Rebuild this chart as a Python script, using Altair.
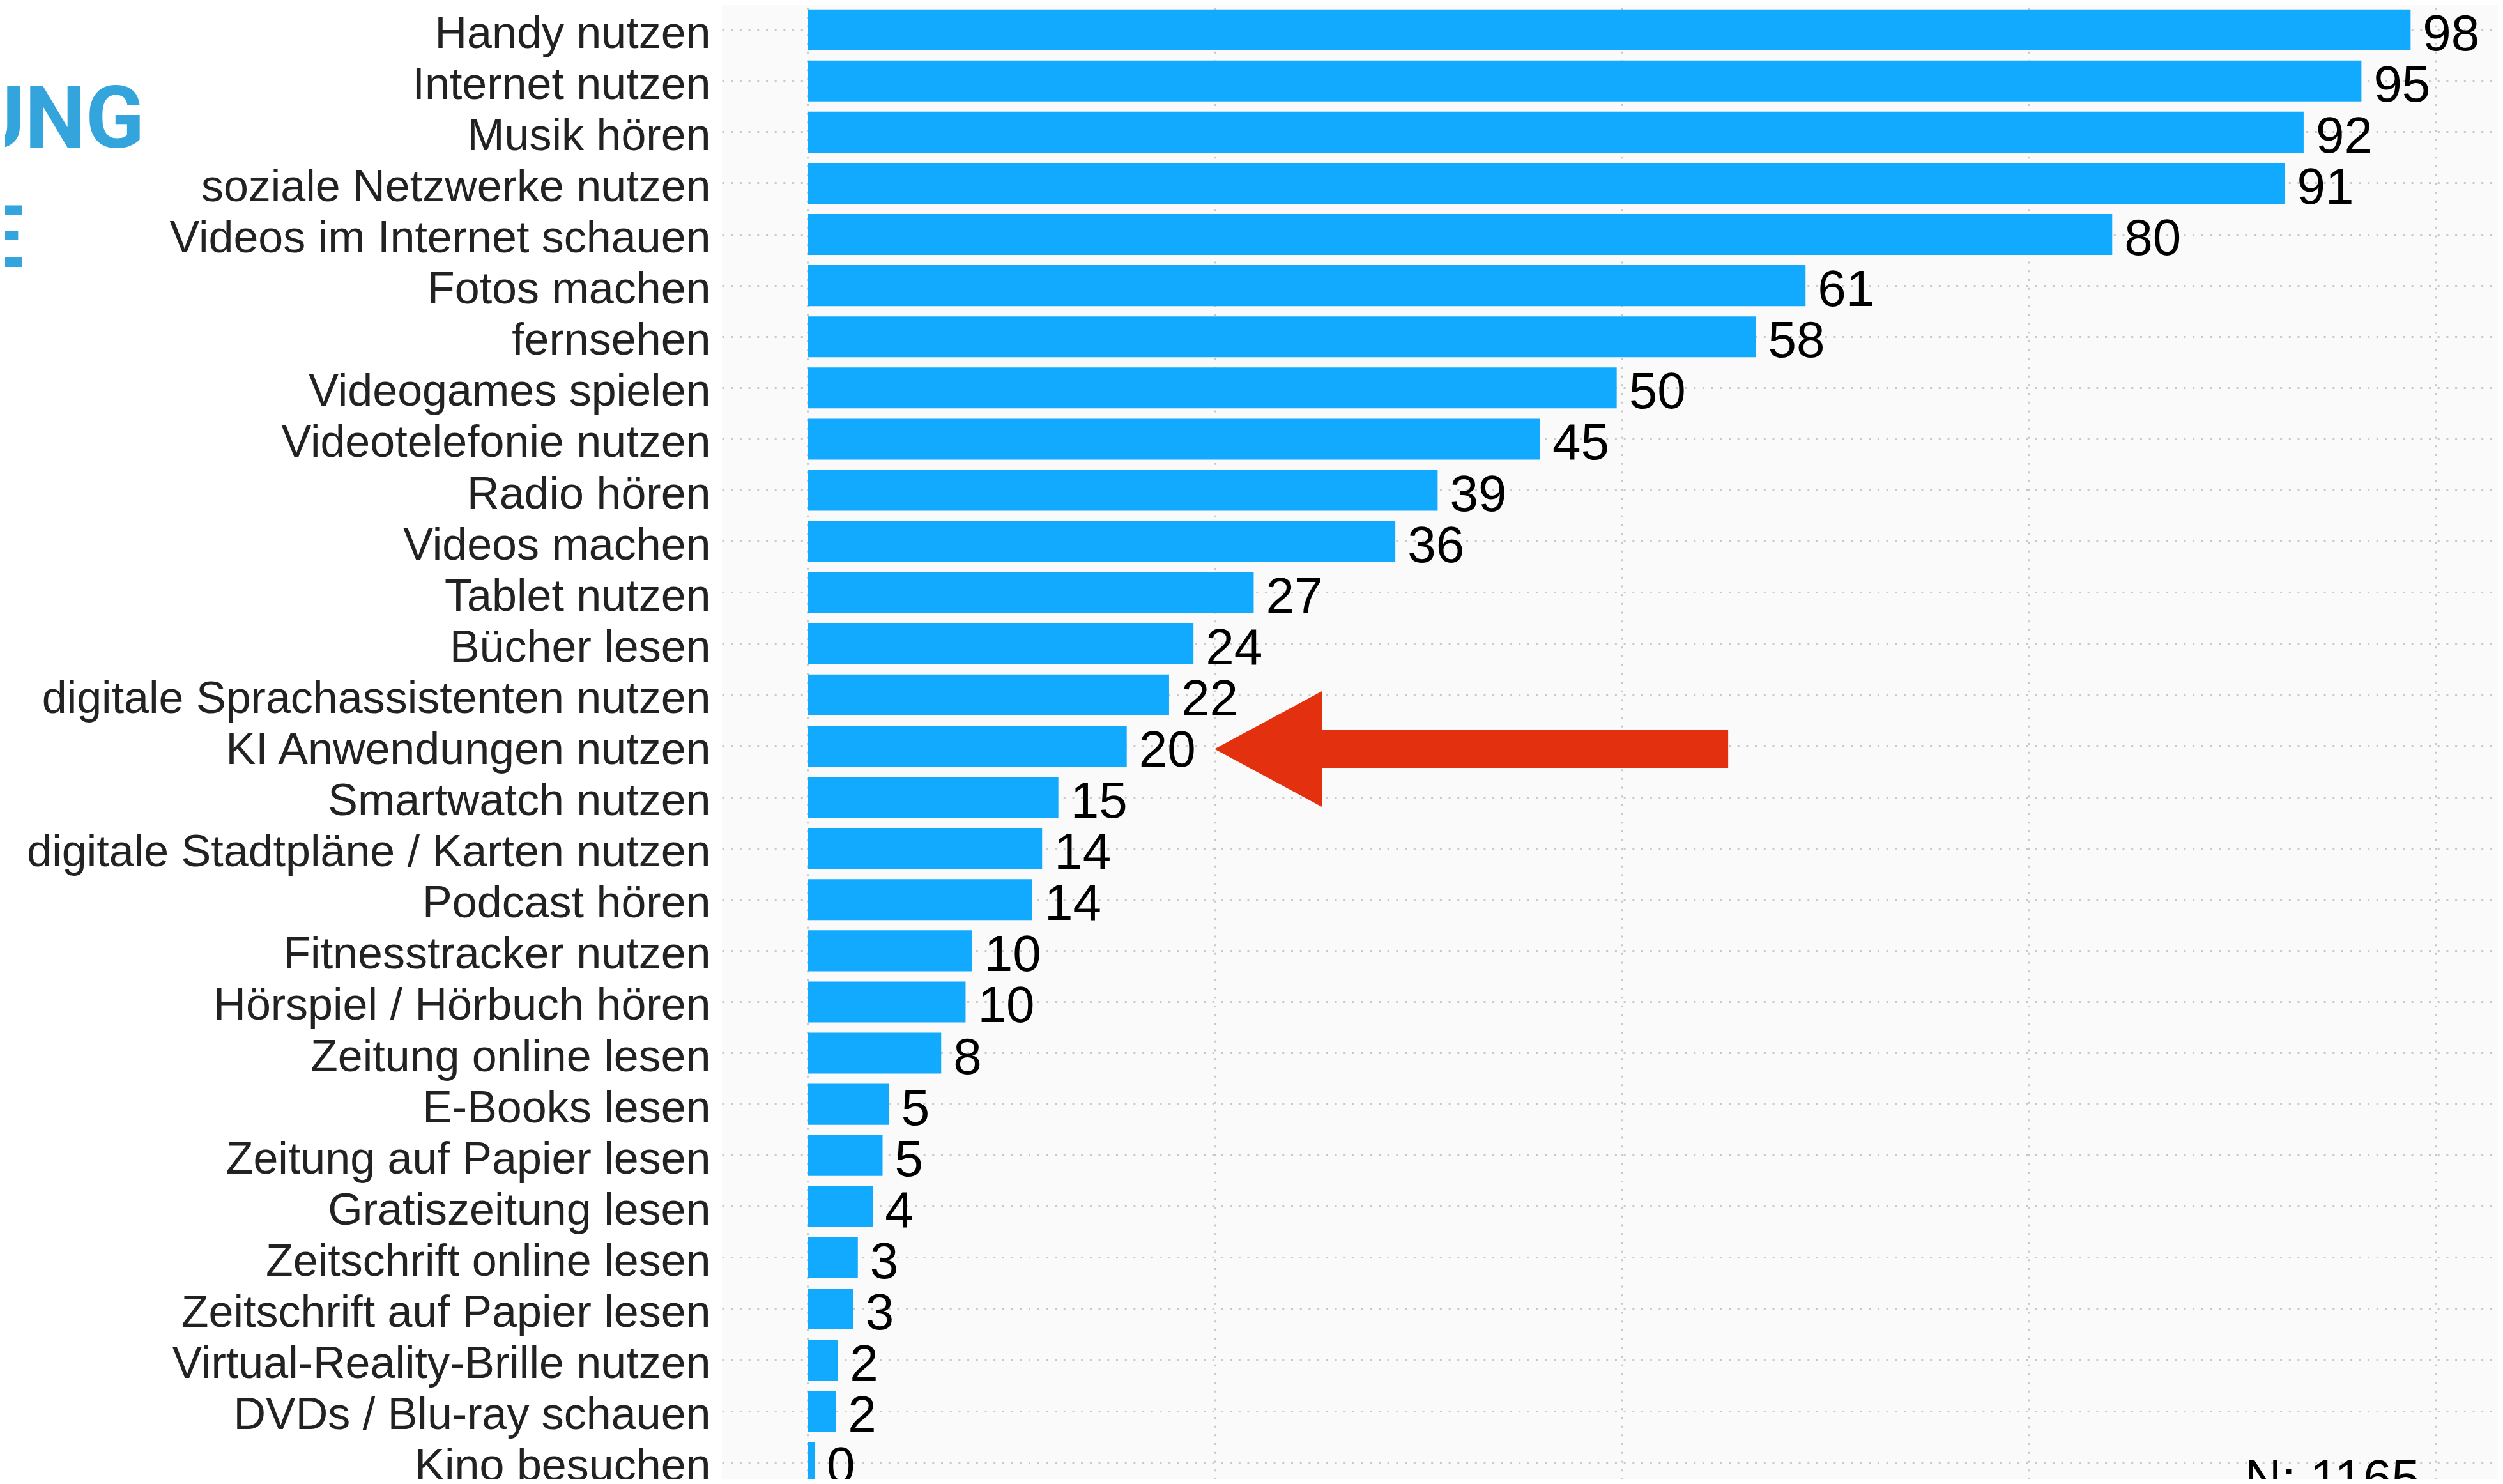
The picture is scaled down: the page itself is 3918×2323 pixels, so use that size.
import altair as alt
import pandas as pd

# ---------------- data ----------------
categories = [
    "Handy nutzen", "Internet nutzen", "Musik hören", "soziale Netzwerke nutzen",
    "Videos im Internet schauen", "Fotos machen", "fernsehen", "Videogames spielen",
    "Videotelefonie nutzen", "Radio hören", "Videos machen", "Tablet nutzen",
    "Bücher lesen", "digitale Sprachassistenten nutzen", "KI Anwendungen nutzen",
    "Smartwatch nutzen", "digitale Stadtpläne / Karten nutzen", "Podcast hören",
    "Fitnesstracker nutzen", "Hörspiel / Hörbuch hören", "Zeitung online lesen",
    "E-Books lesen", "Zeitung auf Papier lesen", "Gratiszeitung lesen",
    "Zeitschrift online lesen", "Zeitschrift auf Papier lesen",
    "Virtual-Reality-Brille nutzen", "DVDs / Blu-ray schauen", "Kino besuchen",
]
values = [
    98.47, 95.45, 91.9, 90.75, 80.14, 61.3, 58.25, 49.7, 45.0, 38.7, 36.1, 27.4,
    23.7, 22.2, 19.6, 15.4, 14.4, 13.8, 10.1, 9.7, 8.2, 5.0, 4.6, 4.0, 3.08,
    2.8, 1.84, 1.72, 0.42,
]
value_labels = [
    "98", "95", "92", "91", "80", "61", "58", "50", "45", "39", "36", "27",
    "24", "22", "20", "15", "14", "14", "10", "10", "8", "5", "5", "4", "3",
    "3", "2", "2", "0",
]
x_grid_values = [0, 25, 50, 75, 100]
arrow_target = "KI Anwendungen nutzen"
arrow_center_value = 40.77
title_line1 = "UNG"
title_line2 = "E"
sample_note = "N: 1165"

df = pd.DataFrame({"Tätigkeit": categories, "Anteil": values, "Label": value_labels})

# ---------------- styling ----------------
BAR_BLUE = "#12AAFF"
TITLE_BLUE = "#34A5DC"
ARROW_RED = "#E3300E"
GRID = "#c8c8c8"
FONT = "Liberation Sans, Arial, Helvetica, sans-serif"
NARROW = "Roboto, Liberation Sans, sans-serif"

PLOT_W = 2780
PLOT_H = 2307
PAD_L = 1122

x_scale = alt.Scale(domain=[-5.271, 103.834], nice=False, zero=False)
y_scale = alt.Scale(range=[-1.35, 2321.3], paddingInner=0.2, paddingOuter=0.1)

x_axis = alt.Axis(values=x_grid_values, labels=False, ticks=False, domain=False,
                  grid=True, gridColor=GRID, gridWidth=3, gridDash=[3, 10.7],
                  title=None)
y_axis = alt.Axis(title=None, ticks=False, tickSize=0, domain=False, grid=True,
                  gridColor=GRID, gridWidth=3, gridDash=[3, 10.7],
                  bandPosition=0.5, labelFont=FONT, labelFontSize=70,
                  labelColor="#222222", labelPadding=18, labelLimit=3000,
                  labelBaseline="alphabetic", labelOffset=28)

base = alt.Chart(df)

bars = base.mark_bar(color=BAR_BLUE).encode(
    x=alt.X("Anteil:Q", scale=x_scale, axis=x_axis),
    x2=alt.datum(0),
    y=alt.Y("Tätigkeit:N", sort=categories, scale=y_scale, axis=y_axis),
)

texts = base.mark_text(align="left", baseline="alphabetic", dx=19, dy=32,
                       font=FONT, fontSize=80, color="#000000").encode(
    x=alt.X("Anteil:Q"),
    y=alt.Y("Tätigkeit:N", sort=categories),
    text="Label:N",
)

arrow_path = ("M-1,0 L-0.582,-0.225 L-0.582,-0.0734 L1,-0.0734 L1,0.0734 "
              "L-0.582,0.0734 L-0.582,0.225 Z")
arrow_df = pd.DataFrame({"Tätigkeit": [arrow_target], "Anteil": [arrow_center_value]})
arrow = alt.Chart(arrow_df).mark_point(
    shape=arrow_path, size=804 * 804, filled=True, color=ARROW_RED,
    opacity=1, strokeWidth=0, yOffset=4.5,
).encode(
    x=alt.X("Anteil:Q"),
    y=alt.Y("Tätigkeit:N", sort=categories),
)

title1 = alt.Chart(pd.DataFrame({"t": [title_line1]})).mark_text(
    align="right", baseline="alphabetic", font=NARROW, fontWeight="bold",
    fontSize=135, color=TITLE_BLUE,
).encode(text="t:N", x=alt.value(-904), y=alt.value(223))

title2 = alt.Chart(pd.DataFrame({"t": [title_line2]})).mark_text(
    align="right", baseline="alphabetic", font=NARROW, fontWeight="bold",
    fontSize=135, color=TITLE_BLUE,
).encode(text="t:N", x=alt.value(-1092), y=alt.value(410))

note = alt.Chart(pd.DataFrame({"t": [sample_note]})).mark_text(
    align="right", baseline="alphabetic", font=FONT, fontSize=80, color="#000000",
).encode(text="t:N", x=alt.value(2658), y=alt.value(2333))

chart = alt.layer(bars, texts, arrow, title1, title2, note).properties(
    width=PLOT_W,
    height=PLOT_H,
    autosize=alt.AutoSizeParams(type="none"),
    padding={"left": PAD_L, "top": 0, "right": 0, "bottom": 0},
    background="white",
).configure_view(fill="#fafafa", stroke=None)

chart.save("out.html", embed_options={"renderer": "svg", "actions": False})
